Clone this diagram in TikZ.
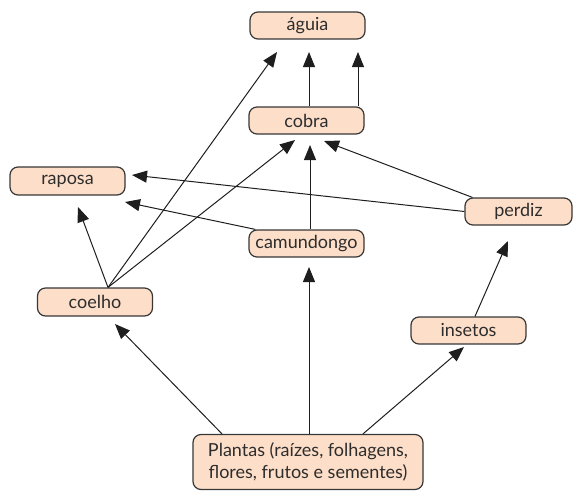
\documentclass[tikz,border=0pt]{standalone}
\usepackage{fontspec}
\setmainfont{Lato}
\usetikzlibrary{arrows.meta}
\definecolor{boxfill}{RGB}{253,222,200}
\definecolor{boxline}{RGB}{55,55,55}
\definecolor{txt}{RGB}{45,45,45}
\definecolor{arrcol}{RGB}{30,30,30}
\begin{document}
\begin{tikzpicture}[x=1pt,y=-1pt,
  box/.style={draw=boxline, fill=boxfill, rounded corners=8pt, line width=1.2pt,
    inner sep=0pt, minimum width=115pt, minimum height=27pt, text=txt,
    font=\fontsize{18}{21.5}\selectfont},
  arr/.style={draw=arrcol, line width=1pt, -{Triangle[length=15pt,width=12pt]}}]
\useasboundingbox (0,0) rectangle (573,490);
% nodes
\node[box] (aguia) at (307.5,25.5) {águia};
\node[box] (cobra) at (306.5,120.5) {cobra};
\node[box] (camundongo) at (306.5,243.5) {camundongo};
\node[box, minimum height=28pt] (raposa) at (67.5,181) {raposa};
\node[box, minimum height=28pt] (coelho) at (95,302) {coelho};
\node[box, minimum width=107pt] (perdiz) at (518.5,211.5) {perdiz};
\node[box] (insetos) at (468.5,330.5) {insetos};
\node[box, minimum width=230pt, minimum height=55pt, align=center] (plantas) at (308,462)
  {Plantas (raízes, folhagens,\\flores, frutos e sementes)};
% arrow tips
\coordinate (ta1) at (309,52);
\coordinate (ta2) at (358,52);
\coordinate (ta3) at (277,52);
\coordinate (tc1) at (295,140);
\coordinate (tc2) at (310,145);
\coordinate (tc3) at (324,141);
\coordinate (tr1) at (78,207);
\coordinate (tr2) at (125,202);
\coordinate (tr3) at (132,175);
\coordinate (tp) at (508,241);
\coordinate (tco) at (115,324);
\coordinate (tcm) at (309,267);
\coordinate (ti) at (464,347);
% connectors
\draw[arr] ([xshift=2.5pt]cobra.north) -- (ta1);
\draw[arr] ([xshift=51.5pt]cobra.north) -- (ta2);
\draw[arr] ([xshift=13pt]coelho.north) -- (ta3);
\draw[arr] ([xshift=13pt]coelho.north) -- (tc1);
\draw[arr] ([xshift=13pt]coelho.north) -- (tr1);
\draw[arr] ([xshift=3.5pt]camundongo.north) -- (tc2);
\draw[arr] ([xshift=7pt]camundongo.north west) -- (tr2);
\draw[arr] ([xshift=8pt]perdiz.north west) -- (tc3);
\draw[arr] (perdiz.west) -- (tr3);
\draw[arr] ([xshift=6.5pt]insetos.north) -- (tp);
\draw[arr] ([xshift=-86pt]plantas.north) -- (tco);
\draw[arr] ([xshift=1pt]plantas.north) -- (tcm);
\draw[arr] ([xshift=55pt]plantas.north) -- (ti);
\end{tikzpicture}
\end{document}
